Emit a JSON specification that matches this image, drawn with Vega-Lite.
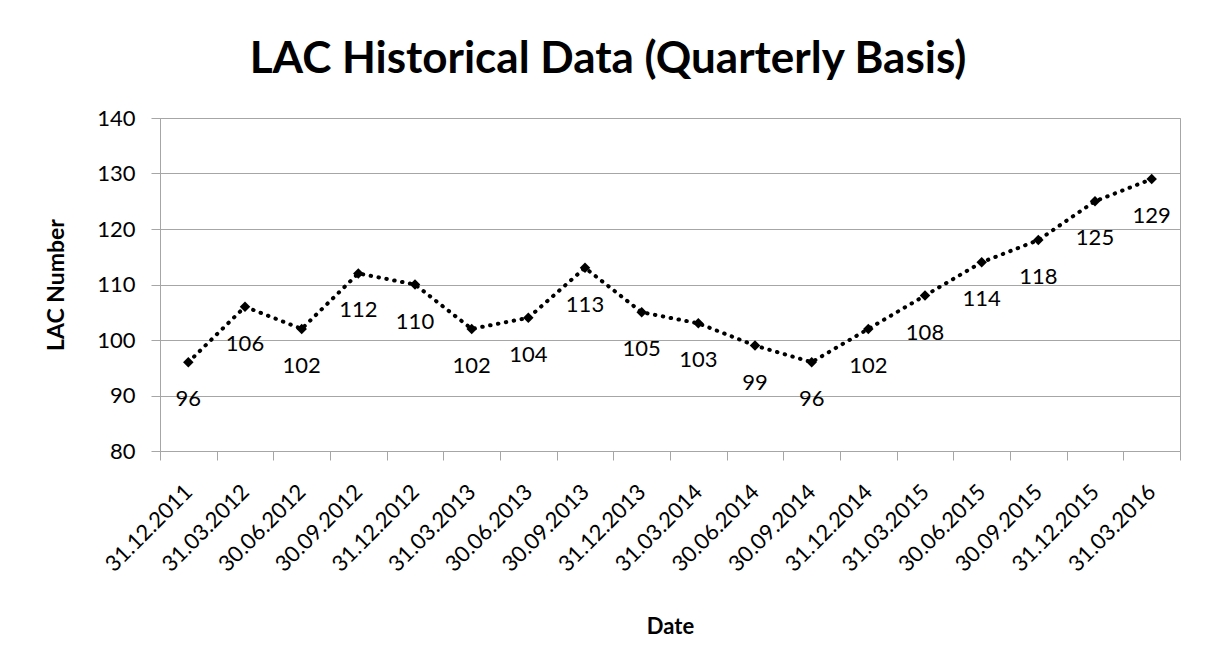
{
  "$schema": "https://vega.github.io/schema/vega-lite/v6.json",
  "autosize": {"type": "none"},
  "padding": {"left": 160, "top": 118, "right": 27, "bottom": 216},
  "width": 1020,
  "height": 333,
  "background": "white",
  "title": {
    "text": "LAC Historical Data (Quarterly Basis)",
    "font": "Lato",
    "fontSize": 44,
    "fontWeight": "bold",
    "color": "#000000",
    "anchor": "middle",
    "frame": "group",
    "dx": -62,
    "offset": 25
  },
  "data": {
    "values": [
      {"Date": "31.12.2011", "LAC": 96},
      {"Date": "31.03.2012", "LAC": 106},
      {"Date": "30.06.2012", "LAC": 102},
      {"Date": "30.09.2012", "LAC": 112},
      {"Date": "31.12.2012", "LAC": 110},
      {"Date": "31.03.2013", "LAC": 102},
      {"Date": "30.06.2013", "LAC": 104},
      {"Date": "30.09.2013", "LAC": 113},
      {"Date": "31.12.2013", "LAC": 105},
      {"Date": "31.03.2014", "LAC": 103},
      {"Date": "30.06.2014", "LAC": 99},
      {"Date": "30.09.2014", "LAC": 96},
      {"Date": "31.12.2014", "LAC": 102},
      {"Date": "31.03.2015", "LAC": 108},
      {"Date": "30.06.2015", "LAC": 114},
      {"Date": "30.09.2015", "LAC": 118},
      {"Date": "31.12.2015", "LAC": 125},
      {"Date": "31.03.2016", "LAC": 129}
    ]
  },
  "encoding": {
    "x": {
      "field": "Date",
      "type": "nominal",
      "sort": null,
      "scale": {"type": "band", "paddingInner": 0, "paddingOuter": 0},
      "axis": {
        "title": "Date",
        "titleFont": "Lato",
        "titleFontSize": 22,
        "titleFontWeight": "bold",
        "titleColor": "#000000",
        "titlePadding": 41,
        "labelAngle": -45,
        "labelAlign": "right",
        "labelBaseline": "middle",
        "labelFont": "Lato",
        "labelFontSize": 22,
        "labelColor": "#000000",
        "labelPadding": 28,
        "tickBand": "extent",
        "tickSize": 9,
        "tickColor": "#a6a6a6",
        "domainColor": "#a6a6a6",
        "grid": false
      }
    },
    "y": {
      "field": "LAC",
      "type": "quantitative",
      "scale": {"domain": [80, 140], "nice": false, "zero": false},
      "axis": {
        "title": "LAC Number",
        "titleFont": "Lato",
        "titleFontSize": 23,
        "titleFontWeight": "bold",
        "titleColor": "#000000",
        "titlePadding": 28,
        "values": [80, 90, 100, 110, 120, 130, 140],
        "labelFont": "Lato",
        "labelFontSize": 22,
        "labelColor": "#000000",
        "labelPadding": 16,
        "tickSize": 9,
        "tickColor": "#a6a6a6",
        "domainColor": "#a6a6a6",
        "grid": true,
        "gridColor": "#a6a6a6"
      }
    }
  },
  "layer": [
    {
      "mark": {"type": "line", "color": "#000000", "strokeWidth": 4, "strokeDash": [0.5, 7.5], "strokeCap": "round"}
    },
    {
      "mark": {"type": "point", "shape": "diamond", "filled": true, "color": "#000000", "size": 110, "opacity": 1}
    },
    {
      "mark": {"type": "text", "dy": 37, "font": "Lato", "fontSize": 22, "color": "#000000"},
      "encoding": {"text": {"field": "LAC", "type": "quantitative"}}
    }
  ],
  "config": {
    "view": {"stroke": "#a6a6a6", "strokeWidth": 1}
  }
}
